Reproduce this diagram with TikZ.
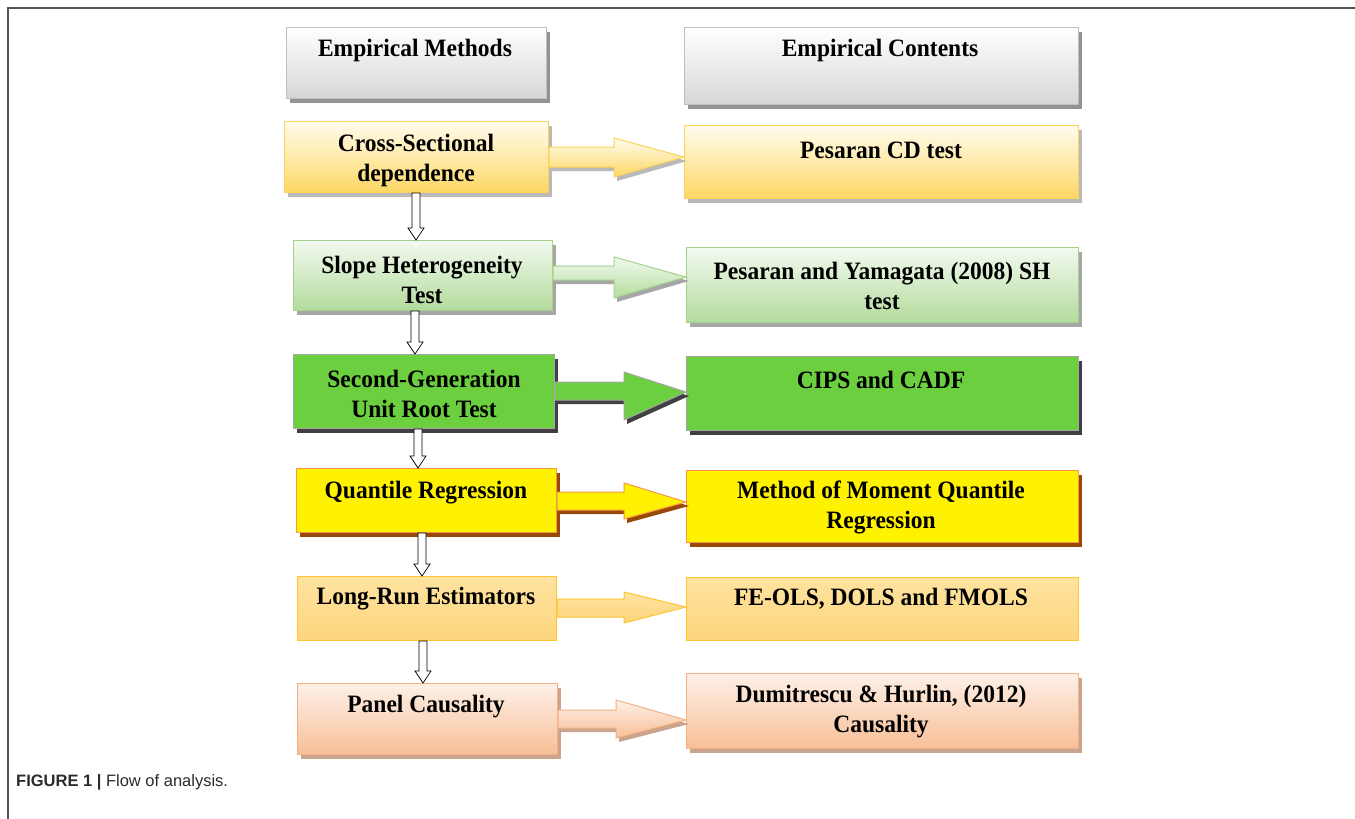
\documentclass[tikz,border=0pt]{standalone}
\usepackage{fontspec}
\setmainfont{Liberation Serif}
\newfontfamily\boxfont[FakeStretch=0.94]{Liberation Serif}
\newfontfamily\capfont{Liberation Sans}
\usetikzlibrary{shadows,calc}
\definecolor{hdrB}{HTML}{D6D6D6}
\definecolor{hdrD}{HTML}{BFBFBF}
\definecolor{yT}{HTML}{FFFCEE}
\definecolor{yB}{HTML}{FDD764}
\definecolor{yD}{HTML}{FCD35A}
\definecolor{gT}{HTML}{F3FAF0}
\definecolor{gB}{HTML}{B3DB9C}
\definecolor{gD}{HTML}{A6D18C}
\definecolor{gS}{HTML}{6CCF3F}
\definecolor{oBd}{HTML}{F79646}
\definecolor{oSh}{HTML}{984807}
\definecolor{lT}{HTML}{FFE3A0}
\definecolor{lB}{HTML}{FDD57C}
\definecolor{lD}{HTML}{FFC42E}
\definecolor{sT}{HTML}{FDF0E7}
\definecolor{sB}{HTML}{F8BF98}
\definecolor{sD}{HTML}{F4B183}
\definecolor{sS}{HTML}{C9A48E}
\definecolor{frameC}{HTML}{555555}
\definecolor{capC}{HTML}{2B2B2B}
\newcommand\blockarrow[9]{%
  \path[#9] let \p1=(#1.east), \p2=(#2.west) in
    (\x1,-#3pt) -- (#8pt,-#3pt) -- (#8pt,-#5pt) -- (\x2,-#7pt) --
    (#8pt,-#6pt) -- (#8pt,-#4pt) -- (\x1,-#4pt) -- cycle;}
\newcommand\downarrowshape[3]{%
  \path[downarr] let \p1=(#1 |- #2.south), \p2=(#1 |- #3.north) in
    (\x1-4pt,\y1) -- (\x1+4pt,\y1) -- (\x1+4pt,\y2+12pt) -- (\x1+8pt,\y2+12pt) --
    (\x1,\y2) -- (\x1-8pt,\y2+12pt) -- (\x1-4pt,\y2+12pt) -- cycle;}
\begin{document}
\begin{tikzpicture}[x=1pt,y=-1pt,
  box/.style={line width=1pt, inner sep=0pt, anchor=north west},
  sh/.style={drop shadow={shadow xshift=3pt,shadow yshift=-4pt,fill=#1,opacity=1}},
  hdr/.style={box, draw=hdrD, top color=white, bottom color=hdrB, sh=gray!85},
  ry/.style={box, draw=yD, top color=yT, bottom color=yB, sh=gray!55},
  rg/.style={box, draw=gD, top color=gT, bottom color=gB, sh=gray!70},
  rG/.style={box, draw=gray!70, fill=gS, sh=black!75},
  rY/.style={box, draw=oBd, fill=yellow, sh=oSh},
  rL/.style={box, draw=lD, top color=lT, bottom color=lB},
  rS/.style={box, draw=sD, top color=sT, bottom color=sB, sh=sS},
  ary/.style={draw=yD, line width=1pt, top color=yT, bottom color=yB, sh=gray!55},
  arg/.style={draw=gD, line width=1pt, top color=gT, bottom color=gB, sh=gray!70},
  arG/.style={draw=gray!70, line width=1pt, fill=gS, sh=black!75},
  arY/.style={draw=oBd, line width=1pt, fill=yellow, sh=oSh},
  arL/.style={draw=lD, line width=1pt, top color=lT, bottom color=lB},
  arS/.style={draw=sD, line width=1pt, top color=sT, bottom color=sB, sh=sS},
  downarr/.style={draw=black, fill=white, line width=0.7pt},
  txt/.style={font=\boxfont\bfseries\fontsize{25}{30}\selectfont, align=center, inner sep=0pt},
  capt/.style={font=\capfont\fontsize{16.5}{19}\selectfont, text=capC, anchor=base west, inner sep=0pt}]
\useasboundingbox (0,0) rectangle (1355,819);
\fill[white] (0,0) rectangle (1355,819);
% frame
\draw[frameC, line width=1.3pt] (8,819) -- (8,8) -- (1355,8);
% header boxes
\node[hdr, minimum width=260pt, minimum height=71pt] (h1) at (286,27) {};
\node[hdr, minimum width=394pt, minimum height=77pt] (h2) at (684,27) {};
% left column
\node[ry, minimum width=264pt, minimum height=71pt] (a1) at (284,121) {};
\node[rg, minimum width=259pt, minimum height=70pt] (a2) at (293,240) {};
\node[rG, minimum width=261pt, minimum height=74pt] (a3) at (293,354) {};
\node[rY, minimum width=260pt, minimum height=64pt] (a4) at (296,468) {};
\node[rL, minimum width=259pt, minimum height=64pt] (a5) at (297,576) {};
\node[rS, minimum width=260pt, minimum height=71pt] (a6) at (297,683) {};
% right column
\node[ry, minimum width=394pt, minimum height=73pt] (b1) at (684,125) {};
\node[rg, minimum width=392pt, minimum height=75pt] (b2) at (686,247) {};
\node[rG, minimum width=392pt, minimum height=74pt] (b3) at (686,356) {};
\node[rY, minimum width=392pt, minimum height=72pt] (b4) at (686,470) {};
\node[rL, minimum width=392pt, minimum height=63pt] (b5) at (686,577) {};
\node[rS, minimum width=392pt, minimum height=75pt] (b6) at (686,673) {};
% block arrows
\blockarrow{a1}{b1}{147}{167}{138}{177}{157}{614}{ary}
\blockarrow{a2}{b2}{266}{280}{257}{298}{277}{614}{arg}
\blockarrow{a3}{b3}{382}{400}{372}{420}{392}{624}{arG}
\blockarrow{a4}{b4}{492}{510}{483}{519}{502}{624}{arY}
\blockarrow{a5}{b5}{599}{617}{592}{623}{607}{624}{arL}
\blockarrow{a6}{b6}{710}{728}{700}{738}{720}{616}{arS}
% down arrows
\coordinate (x1) at (416,0);
\coordinate (x2) at (415,0);
\coordinate (x3) at (418,0);
\coordinate (x4) at (422,0);
\coordinate (x5) at (423,0);
\downarrowshape{x1}{a1}{a2}
\downarrowshape{x2}{a2}{a3}
\downarrowshape{x3}{a3}{a4}
\downarrowshape{x4}{a4}{a5}
\downarrowshape{x5}{a5}{a6}
% texts
\node[txt] (h1t) at (415,50) {Empirical Methods};
\node[txt] (h2t) at (880,50) {Empirical Contents};
\node[txt] (a1t) at (416,160) {Cross-Sectional\\dependence};
\node[txt] (b1t) at (881,150) {Pesaran CD test};
\node[txt] (a2t) at (422,280) {Slope Heterogeneity\\Test};
\node[txt] (b2t) at (882,286) {Pesaran and Yamagata (2008) SH\\test};
\node[txt] (a3t) at (424,394) {Second-Generation\\Unit Root Test};
\node[txt] (b3t) at (881,380) {CIPS and CADF};
\node[txt] (a4t) at (426,493) {Quantile Regression};
\node[txt] (b4t) at (881,507) {Method of Moment Quantile\\Regression};
\node[txt] (a5t) at (426,599) {Long-Run Estimators};
\node[txt] (b5t) at (881,599) {FE-OLS, DOLS and FMOLS};
\node[txt] (a6t) at (426,707) {Panel Causality};
\node[txt] (b6t) at (881,712) {Dumitrescu \& Hurlin, (2012)\\Causality};
% caption
\node[capt] (cap) at (16,786) {\textbf{FIGURE 1 |} Flow of analysis.};
\end{tikzpicture}
\end{document}
